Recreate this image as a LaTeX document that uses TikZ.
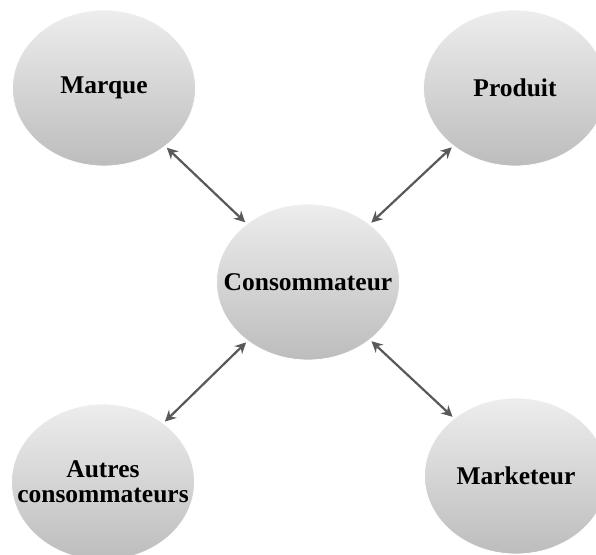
\documentclass[tikz,border=0pt]{standalone}
\usepackage{fontspec}
\setmainfont{Liberation Serif}
\usetikzlibrary{shapes.geometric,arrows.meta}
\tikzset{
  bubble/.style={ellipse, minimum width=183pt, minimum height=156pt, inner sep=0pt,
    top color=black!7, bottom color=black!26, draw=white, line width=0.8pt},
  bubbletext/.style={font=\fontsize{25.5}{28}\selectfont\bfseries, align=center, inner sep=0pt},
  link/.style={draw=black!65, line width=2.2pt, {Stealth[length=11pt,width=11pt]}-{Stealth[length=11pt,width=11pt]}, shorten <=2pt, shorten >=2pt}
}
\begin{document}
\begin{tikzpicture}[x=1pt,y=-1pt]
\useasboundingbox (0,0) rectangle (596,554);
\fill[white] (0,0) rectangle (596,554);
\node[bubble] (marque) at (104,88) {};
\node[bubbletext] (marquet) at (marque.center) {Marque};
\node[bubble] (produit) at (515,88) {};
\node[bubbletext] (produitt) at (produit.center) {Produit};
\node[bubble] (conso) at (308,282) {};
\node[bubbletext] (consot) at (conso.center) {Consommateur};
\node[bubble] (autres) at (103,482) {};
\node[bubbletext] (autrest) at (autres.center) {Autres\\[-3pt]consommateurs};
\node[bubble] (market) at (516,476) {};
\node[bubbletext] (markett) at (market.center) {Marketeur};
\draw[link] (marque) -- (conso);
\draw[link] (produit) -- (conso);
\draw[link] (autres) -- (conso);
\draw[link] (market) -- (conso);
\end{tikzpicture}
\end{document}
